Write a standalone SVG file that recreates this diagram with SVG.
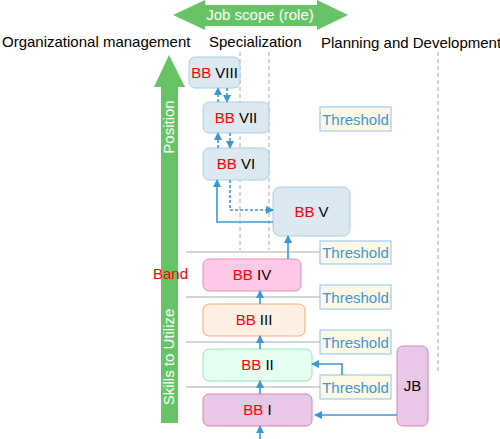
<svg xmlns="http://www.w3.org/2000/svg" width="500" height="439" viewBox="0 0 500 439">
<style>
text{font-family:"Liberation Sans",Arial,sans-serif;font-size:15px}
.hd{fill:#000}
.wt{fill:#fff}
.red{fill:#ff0000}
.th rect{fill:#fdf9e6;stroke:#8ec4e8;stroke-width:1}
.th text{fill:#3b97d5;text-anchor:middle}
.bb text{text-anchor:middle;fill:#000}
.bb tspan.r{fill:#ff0000}
.blue rect{fill:#dce9f1;stroke:#a9cfe6}
.grid{stroke:#aaaaaa;stroke-width:1;fill:none}
.vd{stroke:#aaaaaa;stroke-width:1;stroke-dasharray:4,3;fill:none}
.c{stroke:#3d97d3;stroke-width:1.6;fill:none;marker-end:url(#ah)}
.d{stroke-dasharray:3,2}
</style>
<defs>
<marker id="ah" markerUnits="userSpaceOnUse" markerWidth="8" markerHeight="8" refX="7" refY="4" orient="auto">
<path d="M0,0 L8,4 L0,8 z" fill="#3d97d3"/>
</marker>
</defs>

<g id="guides">
<line class="vd" x1="240" y1="52" x2="240" y2="250"/>
<line class="vd" x1="269" y1="52" x2="269" y2="250"/>
<line class="vd" x1="438" y1="52" x2="438" y2="373"/>
<line class="grid" x1="186" y1="252" x2="320" y2="252"/>
<line class="grid" x1="186" y1="297" x2="320" y2="297"/>
<line class="grid" x1="186" y1="342" x2="320" y2="342"/>
<line class="grid" x1="186" y1="387" x2="320" y2="387"/>
</g>

<g id="scope-arrow">
<polygon points="173,15 205,0 205,5 317,5 317,0 348,15 317,30 317,26 205,26 205,30" fill="#66c466"/>
<text class="wt" x="260" y="20" text-anchor="middle">Job scope (role)</text>
</g>

<g id="headers">
<text class="hd" x="2" y="47">Organizational management</text>
<text class="hd" x="209" y="47">Specialization</text>
<text class="hd" x="321" y="48">Planning and Development</text>
</g>

<g id="position-arrow">
<polygon points="169,55 185,87 178,87 178,423 161,423 161,87 154,87" fill="#66c466"/>
<text class="wt" transform="translate(174,127) rotate(-90)" text-anchor="middle">Position</text>
<text class="wt" transform="translate(174,357) rotate(-90)" text-anchor="middle">Skills to Utilize</text>
</g>

<g id="band-label">
<text class="red" x="153" y="279">Band</text>
</g>

<g id="bb8" class="bb blue"><rect x="189" y="57" width="51" height="31" rx="6"/><text x="214.5" y="77.5"><tspan class="r">BB</tspan> VIII</text></g>
<g id="bb7" class="bb blue"><rect x="203" y="102" width="66" height="31" rx="6"/><text x="236" y="122.5"><tspan class="r">BB</tspan> VII</text></g>
<g id="bb6" class="bb blue"><rect x="203" y="148" width="66" height="32" rx="6"/><text x="236" y="169"><tspan class="r">BB</tspan> VI</text></g>
<g id="bb5" class="bb blue"><rect x="273" y="187" width="77" height="49" rx="7"/><text x="311.5" y="216.5"><tspan class="r">BB</tspan> V</text></g>
<g id="bb4" class="bb"><rect x="203" y="259" width="98" height="32" rx="6" fill="#ffc8e6" stroke="#e68cc0"/><text x="252" y="280"><tspan class="r">BB</tspan> IV</text></g>
<g id="bb3" class="bb"><rect x="203" y="304" width="102" height="32" rx="6" fill="#fff0e4" stroke="#f5a878"/><text x="254" y="325"><tspan class="r">BB</tspan> III</text></g>
<g id="bb2" class="bb"><rect x="203" y="349" width="109" height="32" rx="6" fill="#e6fdf0" stroke="#9ce6b6"/><text x="257.5" y="370"><tspan class="r">BB</tspan> II</text></g>
<g id="bb1" class="bb"><rect x="203" y="394" width="109" height="32" rx="6" fill="#e8c8e6" stroke="#d880b5"/><text x="257.5" y="415"><tspan class="r">BB</tspan> I</text></g>
<g id="jb" class="bb"><rect x="397" y="346" width="31" height="80" rx="6" fill="#e8c8e6" stroke="#d880b5"/><text x="412.5" y="391">JB</text></g>

<g id="th1" class="th"><rect x="320" y="107" width="71" height="24"/><text x="355.5" y="124.5">Threshold</text></g>
<g id="th2" class="th"><rect x="320" y="241" width="71" height="23"/><text x="355.5" y="258">Threshold</text></g>
<g id="th3" class="th"><rect x="320" y="285" width="71" height="24"/><text x="355.5" y="302.5">Threshold</text></g>
<g id="th4" class="th"><rect x="320" y="330" width="71" height="24"/><text x="355.5" y="347.5">Threshold</text></g>
<g id="th5" class="th"><rect x="320" y="375" width="71" height="24"/><text x="355.5" y="392.5">Threshold</text></g>

<g id="connectors">
<path class="c" d="M260,439 V426"/>
<path class="c" d="M260,394 V381"/>
<path class="c" d="M260,349 V336"/>
<path class="c" d="M260,304 V291"/>
<path class="c" d="M288,259 V236"/>
<path class="c" d="M273,222 H217 V180"/>
<path class="c d" d="M230,180 V210 H273"/>
<path class="c d" d="M218,148 V133"/>
<path class="c d" d="M230,133 V148"/>
<path class="c d" d="M218,102 V88"/>
<path class="c d" d="M227,88 V102"/>
<path class="c" d="M397,415 H315"/>
<path class="c" d="M342,375 V364 H312"/>
</g>
</svg>
